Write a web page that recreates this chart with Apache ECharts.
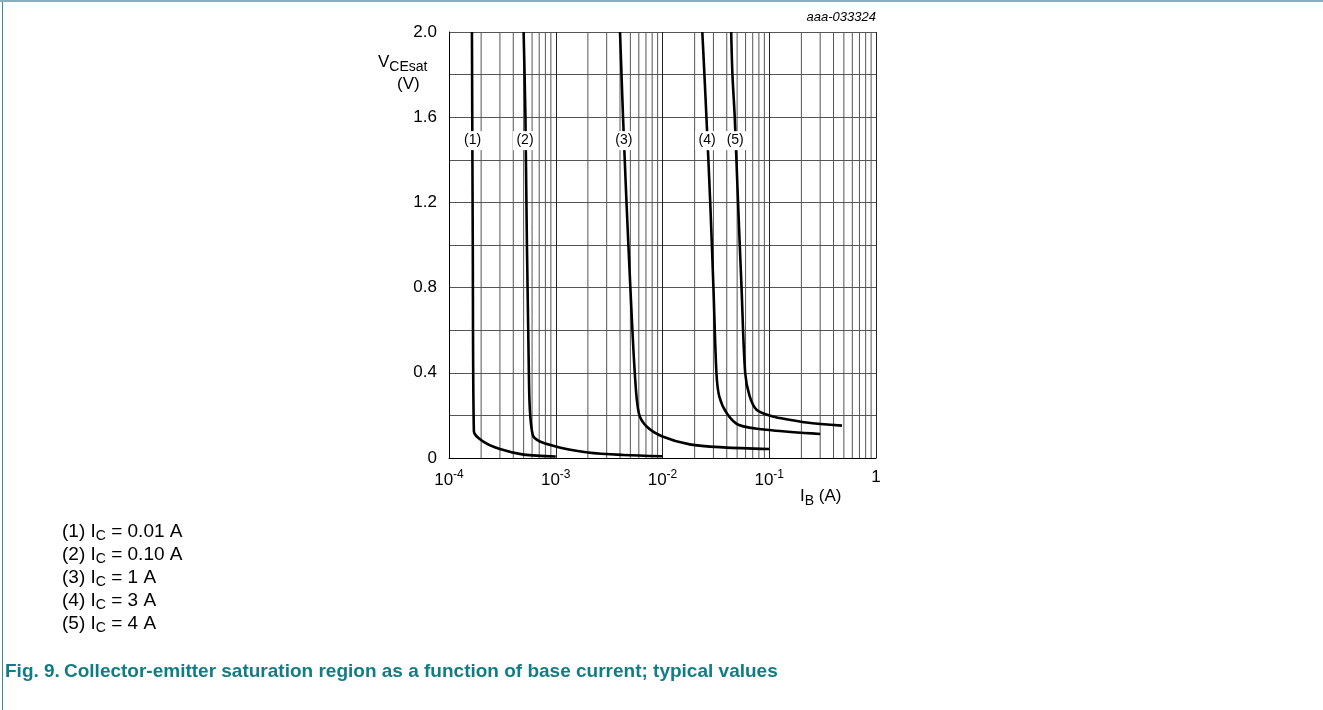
<!DOCTYPE html>
<html>
<head>
<meta charset="utf-8">
<script src="https://cdn.jsdelivr.net/npm/echarts@6/dist/echarts.min.js"></script>
<style>
html,body{margin:0;padding:0;background:#fff;}
#chart{width:1323px;height:710px;}
</style>
</head>
<body>
<div id="chart"></div>
<script>
// ---- data (IB in A, VCEsat in V) ----
var curve1 = [[1.64e-4,2.0],[1.67e-4,1.0],[1.71e-4,0.125],[2.08e-4,0.078],[3.0e-4,0.042],[5.0e-4,0.016],[1.0e-3,0.007]];
var curve2 = [[5.0e-4,2.0],[5.2e-4,1.6],[5.6e-4,0.4],[6.1e-4,0.107],[1.0e-3,0.054],[2.0e-3,0.026],[4.3e-3,0.014],[1.0e-2,0.008]];
var curve3 = [[4.0e-3,2.0],[4.27e-3,1.6],[4.6e-3,1.2],[5.0e-3,0.8],[5.5e-3,0.4],[6.0e-3,0.21],[7.1e-3,0.148],[1.0e-2,0.101],[1.8e-2,0.064],[3.7e-2,0.050],[1.0e-1,0.042]];
var curve4 = [[2.36e-2,2.0],[2.47e-2,1.8],[2.58e-2,1.6],[2.8e-2,1.2],[3.0e-2,0.8],[3.2e-2,0.4],[3.4e-2,0.29],[4.0e-2,0.21],[5.2e-2,0.155],[1.05e-1,0.13],[3.0e-1,0.113]];
var curve5 = [[4.4e-2,2.0],[4.52e-2,1.8],[4.75e-2,1.6],[5.1e-2,1.2],[5.5e-2,0.8],[5.95e-2,0.4],[6.55e-2,0.29],[7.6e-2,0.227],[1.08e-1,0.195],[1.55e-1,0.18],[2.23e-1,0.167],[4.8e-1,0.152]];
var curveTags = [[1.665e-4,1.49,'(1)'],[5.15e-4,1.49,'(2)'],[4.35e-3,1.49,'(3)'],[2.62e-2,1.49,'(4)'],[4.8e-2,1.49,'(5)']];
var legendLines = [['(1)','0.01 A'],['(2)','0.10 A'],['(3)','1 A'],['(4)','3 A'],['(5)','4 A']];
var xDecades = [-4,-3,-2,-1];
var xMinorMultipliers = [2,3,4,5,6,7,8,9];
var yMin = 0, yMax = 2.0, yStep = 0.2, yLabelStep = 0.4;
var xMin = 1e-4, xMax = 1;

// minor vertical grid lines as broken segments through the axis scale
var minorGrid = [];
xDecades.forEach(function(d){ xMinorMultipliers.forEach(function(m){
  var v = m*Math.pow(10,d);
  minorGrid.push([v,yMin],[v,yMax],[v,'-']);
}); });

var FONT = "'Liberation Sans', Arial, sans-serif";
var chart = echarts.init(document.getElementById('chart'), null, {renderer:'canvas'});
var gridColor = '#555';
function curveSeries(d){
  return {type:'line', data:d, showSymbol:false, smooth:0.3,
    lineStyle:{color:'#000', width:2.6}, z:5, silent:true, animation:false};
}
var legendTexts = legendLines.map(function(l,i){
  return {type:'text', left:62, top:522+i*23, style:{
    text: l[0]+' I{sub|C} = '+l[1],
    font: "19px 'Liberation Sans Narrow', 'Liberation Sans', Arial, sans-serif",
    fill:'#000',
    rich:{sub:{fontSize:14, fontFamily:"'Liberation Sans Narrow', 'Liberation Sans', Arial", padding:[9,0,0,0]}}
  }};
});
var option = {
  animation:false,
  backgroundColor:'#fff',
  grid:{left:449, top:32, width:427, height:426, containLabel:false},
  xAxis:{type:'log', logBase:10, min:xMin, max:xMax,
    axisLine:{show:true, lineStyle:{color:'#000', width:1}},
    axisTick:{show:false},
    splitLine:{show:true, lineStyle:{color:'#222', width:1}},
    axisLabel:{margin:11, color:'#000', fontFamily:FONT, fontSize:17,
      formatter:function(v){ var e=Math.round(Math.log10(v)); return e===0?'1':'10{sup|'+e+'}'; },
      rich:{sup:{fontSize:12, fontFamily:FONT, color:'#000', padding:[0,0,10,0]}}
    }
  },
  yAxis:{type:'value', min:yMin, max:yMax, interval:yStep,
    axisLine:{show:true, lineStyle:{color:'#000', width:1}},
    axisTick:{show:false},
    splitLine:{show:true, lineStyle:{color:gridColor, width:1}},
    axisLabel:{margin:12, color:'#000', fontFamily:FONT, fontSize:17,
      formatter:function(v){
        var k=Math.round(v/yStep), r=Math.round(yLabelStep/yStep);
        if(k%r!==0) return '';
        return v===0?'0':v.toFixed(1);
      }}
  },
  series:[
    {type:'line', data:minorGrid, showSymbol:false, silent:true, connectNulls:false,
      lineStyle:{color:gridColor, width:1}, z:1, animation:false},
    curveSeries(curve1), curveSeries(curve2), curveSeries(curve3), curveSeries(curve4), curveSeries(curve5),
    {type:'scatter', data:curveTags, symbol:'rect', symbolSize:[24,19], itemStyle:{color:'#fff', opacity:1}, z:10, silent:true,
      label:{show:true, position:'inside', color:'#000', fontFamily:FONT, fontSize:14,
        formatter:function(p){return p.data[2];}}}
  ],
  graphic:[
    {type:'rect', left:2, top:0, shape:{width:1, height:710}, style:{fill:'#3b8a92'}},
    {type:'rect', left:0, top:0, shape:{width:1323, height:2}, style:{fill:'#7fb3b9'}},
    {type:'text', right:447, top:11, style:{text:'aaa-033324', font:"italic 13px 'Liberation Sans', Arial", fill:'#000', textAlign:'right'}},
    {type:'text', left:378, top:54, style:{text:'V{sub|CEsat}', font:"17px 'Liberation Sans', Arial", fill:'#000',
      rich:{sub:{fontSize:14, fontFamily:FONT, padding:[10,0,0,0]}}}},
    {type:'text', left:397, top:76, style:{text:'(V)', font:"17px 'Liberation Sans', Arial", fill:'#000'}},
    {type:'text', left:800, top:488, style:{text:'I{sub|B} (A)', font:"17px 'Liberation Sans', Arial", fill:'#000',
      rich:{sub:{fontSize:14, fontFamily:FONT, padding:[10,0,0,0]}}}},
    {type:'text', left:5, top:662, style:{text:'Fig. 9.', font:"bold 19px 'Liberation Sans Narrow', 'Liberation Sans', Arial", fill:'#117c84'}},
    {type:'text', left:64, top:662, style:{text:'Collector-emitter saturation region as a function of base current; typical values', font:"bold 19px 'Liberation Sans Narrow', 'Liberation Sans', Arial", fill:'#117c84'}}
  ].concat(legendTexts)
};
chart.setOption(option);
</script>
</body>
</html>
